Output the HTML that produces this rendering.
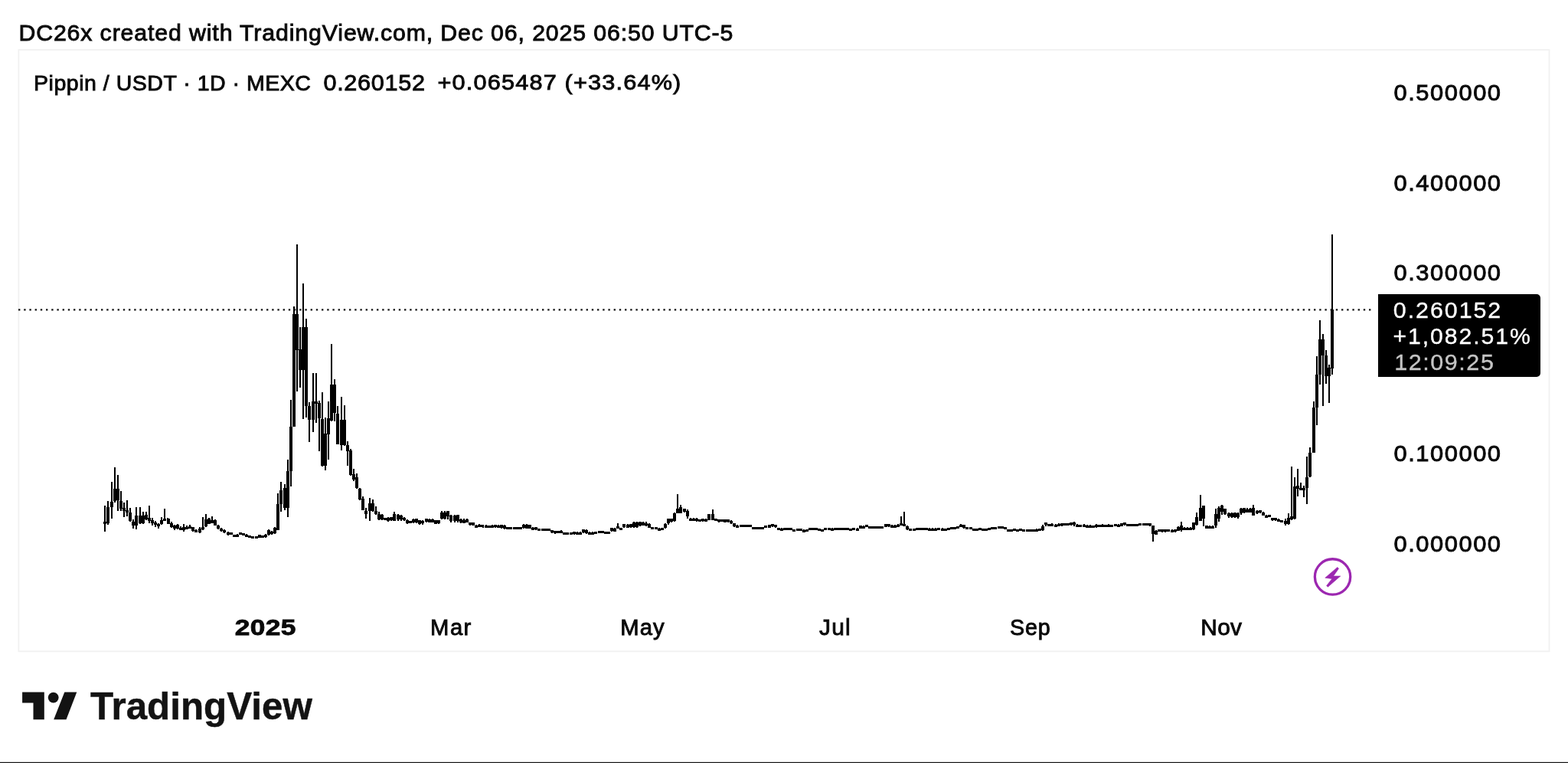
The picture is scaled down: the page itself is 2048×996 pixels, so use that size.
<!DOCTYPE html>
<html><head><meta charset="utf-8"><title>Pippin / USDT chart</title>
<style>
html,body{margin:0;padding:0;background:#fff}
body{width:2048px;height:996px;overflow:hidden;position:relative}
svg{position:absolute;left:0;top:0;display:block}
text{font-family:"Liberation Sans",Arial,sans-serif}
</style></head>
<body>
<svg width="2048" height="996" viewBox="0 0 2048 996">
<rect x="0" y="0" width="2048" height="996" fill="#fff"/>
<rect x="24.4" y="65.1" width="1999.1" height="785.2" fill="#fff" stroke="#f1f1f1" stroke-width="1.8"/>
<line x1="24" y1="404.4" x2="1794" y2="404.4" stroke="#131313" stroke-width="2.4" stroke-dasharray="2.4 4.8"/>
<path d="M136 660h2v34h-2zM140 654h2v31h-2zM145 629h2v48h-2zM149 610h2v46h-2zM153 620h2v47h-2zM157 641h2v26h-2zM161 656h2v19h-2zM165 653h2v21h-2zM169 663h2v18h-2zM173 678h2v12h-2zM177 662h2v29h-2zM182 662h2v22h-2zM186 668h2v16h-2zM190 668h2v11h-2zM194 660h2v23h-2zM198 676h2v10h-2zM202 680h2v8h-2zM206 683h2v7h-2zM210 675h2v10h-2zM214 664h2v16h-2zM218 676h2v8h-2zM223 681h2v8h-2zM227 685h2v7h-2zM231 684h2v7h-2zM235 687h2v5h-2zM239 684h2v10h-2zM243 686h2v5h-2zM247 685h2v5h-2zM251 688h2v6h-2zM255 691h2v3h-2zM260 688h2v8h-2zM264 675h2v17h-2zM268 671h2v17h-2zM272 676h2v8h-2zM276 674h2v9h-2zM280 678h2v8h-2zM284 685h2v6h-2zM288 689h2v5h-2zM292 691h2v5h-2zM297 694h2v5h-2zM301 695h2v3h-2zM305 698h2v1h-2zM309 697h2v4h-2zM313 695h2v3h-2zM317 696h2v2h-2zM321 697h2v4h-2zM325 699h2v3h-2zM329 700h2v2h-2zM334 701h2v1h-2zM338 698h2v4h-2zM342 699h2v3h-2zM346 697h2v5h-2zM350 691h2v8h-2zM354 693h2v5h-2zM358 688h2v9h-2zM362 644h2v48h-2zM366 629h2v39h-2zM371 632h2v34h-2zM375 600h2v75h-2zM379 522h2v113h-2zM383 400h2v157h-2zM387 319h2v192h-2zM391 427h2v79h-2zM395 370h2v177h-2zM399 416h2v129h-2zM403 525h2v52h-2zM408 487h2v77h-2zM412 487h2v65h-2zM416 523h2v66h-2zM420 512h2v97h-2zM424 545h2v69h-2zM428 524h2v76h-2zM432 449h2v101h-2zM436 495h2v55h-2zM440 530h2v50h-2zM445 518h2v70h-2zM449 529h2v53h-2zM453 576h2v32h-2zM457 586h2v35h-2zM461 612h2v16h-2zM465 618h2v20h-2zM469 637h2v16h-2zM473 648h2v18h-2zM477 663h2v14h-2zM482 650h2v30h-2zM486 652h2v16h-2zM490 661h2v11h-2zM494 668h2v11h-2zM498 671h2v8h-2zM502 676h2v3h-2zM506 675h2v6h-2zM510 675h2v5h-2zM514 668h2v12h-2zM519 671h2v9h-2zM523 672h2v8h-2zM527 675h2v5h-2zM531 678h2v6h-2zM535 680h2v2h-2zM539 677h2v6h-2zM543 677h2v6h-2zM547 679h2v6h-2zM551 679h2v6h-2zM556 677h2v5h-2zM560 677h2v5h-2zM564 677h2v5h-2zM568 679h2v5h-2zM572 679h2v5h-2zM576 667h2v11h-2zM580 667h2v11h-2zM584 667h2v11h-2zM588 672h2v10h-2zM593 672h2v10h-2zM597 672h2v10h-2zM601 677h2v6h-2zM605 677h2v6h-2zM609 677h2v5h-2zM613 682h2v4h-2zM617 682h2v4h-2zM621 685h2v4h-2zM625 684h2v4h-2zM630 685h2v4h-2zM634 685h2v3h-2zM638 686h2v3h-2zM642 685h2v4h-2zM646 685h2v4h-2zM650 685h2v4h-2zM654 685h2v5h-2zM658 685h2v6h-2zM662 688h2v2h-2zM666 689h2v2h-2zM671 688h2v2h-2zM675 688h2v2h-2zM679 688h2v2h-2zM683 684h2v6h-2zM687 684h2v6h-2zM691 685h2v5h-2zM695 688h2v3h-2zM699 688h2v4h-2zM703 690h2v3h-2zM708 690h2v3h-2zM712 690h2v3h-2zM716 690h2v3h-2zM720 692h2v4h-2zM724 693h2v4h-2zM728 693h2v3h-2zM732 692h2v4h-2zM736 695h2v3h-2zM740 695h2v3h-2zM745 696h2v2h-2zM749 694h2v4h-2zM753 694h2v3h-2zM757 694h2v4h-2zM761 691h2v5h-2zM765 691h2v6h-2zM769 694h2v3h-2zM773 694h2v3h-2zM777 694h2v3h-2zM782 694h2v2h-2zM786 693h2v3h-2zM790 694h2v3h-2zM794 694h2v3h-2zM798 689h2v5h-2zM802 689h2v5h-2zM806 683h2v7h-2zM810 689h2v2h-2zM814 684h2v5h-2zM819 684h2v5h-2zM823 684h2v5h-2zM827 681h2v8h-2zM831 681h2v8h-2zM835 681h2v6h-2zM839 681h2v5h-2zM843 681h2v6h-2zM847 683h2v6h-2zM851 688h2v3h-2zM856 688h2v3h-2zM860 689h2v3h-2zM864 689h2v3h-2zM868 683h2v7h-2zM872 677h2v8h-2zM876 677h2v5h-2zM880 669h2v12h-2zM884 645h2v25h-2zM888 659h2v11h-2zM893 664h2v5h-2zM897 665h2v12h-2zM901 676h2v4h-2zM905 676h2v4h-2zM909 676h2v5h-2zM913 678h2v3h-2zM917 677h2v4h-2zM921 677h2v4h-2zM925 671h2v8h-2zM930 665h2v14h-2zM934 677h2v2h-2zM938 678h2v4h-2zM942 678h2v3h-2zM946 678h2v4h-2zM950 678h2v4h-2zM954 679h2v5h-2zM958 683h2v5h-2zM962 685h2v3h-2zM967 685h2v3h-2zM971 685h2v3h-2zM975 685h2v3h-2zM979 685h2v3h-2zM983 688h2v3h-2zM987 688h2v3h-2zM991 688h2v2h-2zM995 688h2v2h-2zM999 686h2v3h-2zM1004 685h2v4h-2zM1008 684h2v4h-2zM1012 685h2v4h-2zM1016 689h2v3h-2zM1020 689h2v3h-2zM1024 689h2v3h-2zM1028 689h2v2h-2zM1032 689h2v2h-2zM1036 691h2v2h-2zM1040 690h2v2h-2zM1045 690h2v3h-2zM1049 691h2v4h-2zM1053 691h2v3h-2zM1057 689h2v2h-2zM1061 689h2v3h-2zM1065 689h2v3h-2zM1069 691h2v2h-2zM1073 691h2v2h-2zM1077 689h2v3h-2zM1082 689h2v3h-2zM1086 689h2v3h-2zM1090 689h2v3h-2zM1094 689h2v3h-2zM1098 689h2v3h-2zM1102 689h2v3h-2zM1106 689h2v3h-2zM1110 690h2v2h-2zM1114 689h2v3h-2zM1119 689h2v3h-2zM1123 686h2v4h-2zM1127 686h2v4h-2zM1131 685h2v3h-2zM1135 687h2v3h-2zM1139 687h2v3h-2zM1143 687h2v3h-2zM1147 687h2v2h-2zM1151 687h2v3h-2zM1156 684h2v4h-2zM1160 684h2v4h-2zM1164 685h2v3h-2zM1168 685h2v3h-2zM1172 684h2v3h-2zM1176 674h2v12h-2zM1180 668h2v18h-2zM1184 686h2v6h-2zM1188 690h2v1h-2zM1193 690h2v2h-2zM1197 689h2v3h-2zM1201 689h2v2h-2zM1205 689h2v2h-2zM1209 689h2v3h-2zM1213 689h2v2h-2zM1217 689h2v3h-2zM1221 689h2v3h-2zM1225 689h2v2h-2zM1230 689h2v2h-2zM1234 690h2v2h-2zM1238 689h2v2h-2zM1242 688h2v2h-2zM1246 688h2v2h-2zM1250 688h2v2h-2zM1254 684h2v4h-2zM1258 685h2v5h-2zM1262 688h2v3h-2zM1267 688h2v2h-2zM1271 690h2v2h-2zM1275 690h2v2h-2zM1279 690h2v2h-2zM1283 690h2v2h-2zM1287 690h2v2h-2zM1291 690h2v2h-2zM1295 688h2v2h-2zM1299 688h2v2h-2zM1304 688h2v1h-2zM1308 688h2v2h-2zM1312 688h2v3h-2zM1316 691h2v2h-2zM1320 691h2v3h-2zM1324 690h2v3h-2zM1328 691h2v3h-2zM1332 690h2v3h-2zM1336 691h2v2h-2zM1341 692h2v2h-2zM1345 691h2v2h-2zM1349 691h2v2h-2zM1353 690h2v3h-2zM1357 690h2v3h-2zM1361 685h2v8h-2zM1365 682h2v5h-2zM1369 684h2v3h-2zM1373 683h2v4h-2zM1378 684h2v3h-2zM1382 683h2v4h-2zM1386 683h2v4h-2zM1390 683h2v3h-2zM1394 683h2v3h-2zM1398 682h2v4h-2zM1402 681h2v6h-2zM1406 684h2v3h-2zM1410 685h2v3h-2zM1415 684h2v3h-2zM1419 685h2v3h-2zM1423 685h2v3h-2zM1427 686h2v3h-2zM1431 684h2v5h-2zM1435 685h2v3h-2zM1439 684h2v3h-2zM1443 685h2v3h-2zM1447 684h2v3h-2zM1452 685h2v3h-2zM1456 684h2v3h-2zM1460 684h2v3h-2zM1464 683h2v4h-2zM1468 682h2v4h-2zM1472 684h2v2h-2zM1476 684h2v2h-2zM1480 684h2v2h-2zM1484 684h2v2h-2zM1488 683h2v3h-2zM1493 683h2v3h-2zM1497 683h2v3h-2zM1501 683h2v4h-2zM1505 686h2v21h-2zM1509 692h2v6h-2zM1513 691h2v3h-2zM1517 691h2v4h-2zM1521 691h2v4h-2zM1525 691h2v3h-2zM1530 691h2v4h-2zM1534 691h2v4h-2zM1538 687h2v6h-2zM1542 681h2v13h-2zM1546 688h2v4h-2zM1550 688h2v4h-2zM1554 688h2v4h-2zM1558 682h2v10h-2zM1562 669h2v17h-2zM1567 646h2v34h-2zM1571 660h2v27h-2zM1575 686h2v4h-2zM1579 686h2v4h-2zM1583 686h2v4h-2zM1587 664h2v25h-2zM1591 661h2v20h-2zM1595 659h2v13h-2zM1599 664h2v8h-2zM1604 669h2v7h-2zM1608 669h2v7h-2zM1612 669h2v7h-2zM1616 669h2v8h-2zM1620 663h2v9h-2zM1624 663h2v7h-2zM1628 663h2v6h-2zM1632 663h2v6h-2zM1636 659h2v14h-2zM1641 666h2v5h-2zM1645 666h2v4h-2zM1649 668h2v5h-2zM1653 672h2v4h-2zM1657 672h2v3h-2zM1661 676h2v4h-2zM1665 676h2v4h-2zM1669 677h2v4h-2zM1673 679h2v3h-2zM1678 677h2v9h-2zM1682 670h2v15h-2zM1686 609h2v70h-2zM1690 623h2v55h-2zM1694 612h2v36h-2zM1698 630h2v10h-2zM1702 634h2v15h-2zM1706 596h2v62h-2zM1710 584h2v39h-2zM1715 524h2v67h-2zM1719 465h2v90h-2zM1723 418h2v84h-2zM1727 436h2v94h-2zM1731 457h2v44h-2zM1735 476h2v50h-2zM1739 306h2v183h-2zM135 681h4v3h-4zM139 662h4v21h-4zM144 655h4v7h-4zM148 638h4v16h-4zM152 638h4v15h-4zM156 654h4v10h-4zM160 663h4v4h-4zM164 666h4v3h-4zM168 669h4v11h-4zM172 681h4v5h-4zM176 673h4v13h-4zM181 673h4v10h-4zM185 673h4v10h-4zM189 672h4v6h-4zM193 676h4v4h-4zM197 679h4v4h-4zM201 682h4v3h-4zM205 684h4v3h-4zM209 679h4v5h-4zM213 677h4v3h-4zM218 677h4v7h-4zM222 683h4v5h-4zM226 686h4v4h-4zM230 685h4v5h-4zM234 689h4v3h-4zM238 688h4v4h-4zM242 688h4v3h-4zM246 687h4v3h-4zM250 688h4v5h-4zM254 692h4v3h-4zM259 690h4v5h-4zM263 688h4v3h-4zM267 678h4v9h-4zM271 677h4v7h-4zM275 679h4v4h-4zM279 679h4v7h-4zM283 686h4v4h-4zM287 690h4v3h-4zM291 692h4v3h-4zM296 695h4v3h-4zM300 695h4v3h-4zM304 698h4v3h-4zM308 698h4v3h-4zM312 695h4v3h-4zM316 696h4v3h-4zM320 698h4v3h-4zM324 699h4v3h-4zM328 700h4v3h-4zM333 700h4v3h-4zM337 698h4v4h-4zM341 699h4v3h-4zM345 698h4v3h-4zM349 692h4v6h-4zM353 694h4v3h-4zM357 689h4v7h-4zM361 658h4v34h-4zM365 640h4v18h-4zM370 637h4v26h-4zM374 615h4v48h-4zM378 557h4v58h-4zM382 410h4v147h-4zM386 410h4v47h-4zM390 456h4v27h-4zM394 427h4v56h-4zM398 427h4v103h-4zM402 530h4v18h-4zM407 524h4v24h-4zM411 524h4v3h-4zM415 526h4v20h-4zM419 547h4v61h-4zM423 566h4v42h-4zM427 546h4v21h-4zM431 502h4v47h-4zM435 502h4v37h-4zM439 540h4v40h-4zM444 548h4v33h-4zM448 548h4v33h-4zM452 581h4v8h-4zM456 588h4v32h-4zM460 619h4v7h-4zM464 623h4v14h-4zM468 638h4v14h-4zM472 651h4v15h-4zM476 667h4v4h-4zM481 657h4v10h-4zM485 657h4v10h-4zM489 667h4v4h-4zM493 671h4v7h-4zM497 672h4v6h-4zM501 676h4v3h-4zM505 676h4v4h-4zM509 675h4v4h-4zM513 671h4v9h-4zM518 672h4v6h-4zM522 673h4v5h-4zM526 676h4v3h-4zM530 679h4v4h-4zM534 680h4v3h-4zM538 678h4v4h-4zM542 677h4v5h-4zM546 679h4v5h-4zM550 680h4v3h-4zM555 677h4v4h-4zM559 678h4v4h-4zM563 678h4v4h-4zM567 679h4v5h-4zM571 679h4v4h-4zM575 669h4v8h-4zM579 669h4v8h-4zM583 667h4v7h-4zM587 673h4v7h-4zM592 673h4v7h-4zM596 672h4v8h-4zM600 678h4v4h-4zM604 679h4v4h-4zM608 678h4v4h-4zM612 682h4v3h-4zM616 682h4v4h-4zM620 686h4v3h-4zM624 685h4v3h-4zM628 685h4v3h-4zM633 686h4v3h-4zM637 686h4v3h-4zM641 686h4v3h-4zM645 685h4v3h-4zM649 686h4v3h-4zM653 685h4v4h-4zM657 686h4v4h-4zM661 688h4v3h-4zM665 688h4v3h-4zM670 688h4v3h-4zM674 688h4v3h-4zM678 688h4v3h-4zM682 685h4v4h-4zM686 685h4v5h-4zM690 685h4v5h-4zM694 689h4v3h-4zM698 688h4v3h-4zM702 690h4v3h-4zM707 690h4v3h-4zM711 690h4v3h-4zM715 690h4v3h-4zM719 692h4v3h-4zM723 693h4v3h-4zM727 693h4v3h-4zM731 693h4v3h-4zM735 695h4v3h-4zM739 695h4v3h-4zM744 695h4v3h-4zM748 694h4v3h-4zM752 695h4v3h-4zM756 695h4v3h-4zM760 691h4v4h-4zM764 692h4v4h-4zM768 695h4v3h-4zM772 695h4v3h-4zM776 694h4v3h-4zM781 693h4v3h-4zM785 693h4v3h-4zM789 694h4v3h-4zM793 694h4v3h-4zM797 689h4v4h-4zM801 690h4v4h-4zM805 687h4v3h-4zM809 689h4v3h-4zM813 684h4v4h-4zM818 685h4v4h-4zM822 684h4v4h-4zM826 682h4v6h-4zM830 682h4v6h-4zM834 681h4v5h-4zM838 682h4v4h-4zM842 683h4v3h-4zM846 684h4v5h-4zM850 688h4v3h-4zM855 688h4v3h-4zM859 690h4v3h-4zM863 689h4v3h-4zM867 684h4v5h-4zM871 677h4v6h-4zM875 677h4v4h-4zM879 670h4v10h-4zM883 664h4v6h-4zM887 662h4v8h-4zM892 664h4v4h-4zM896 667h4v7h-4zM900 677h4v3h-4zM904 677h4v3h-4zM908 677h4v3h-4zM912 678h4v3h-4zM916 677h4v3h-4zM920 678h4v3h-4zM924 671h4v8h-4zM929 671h4v8h-4zM933 677h4v3h-4zM937 678h4v3h-4zM941 678h4v3h-4zM945 678h4v4h-4zM949 678h4v3h-4zM953 680h4v3h-4zM957 683h4v4h-4zM961 686h4v3h-4zM966 685h4v3h-4zM970 685h4v3h-4zM974 685h4v3h-4zM978 685h4v3h-4zM982 688h4v3h-4zM986 688h4v3h-4zM990 688h4v3h-4zM994 688h4v3h-4zM998 686h4v3h-4zM1003 685h4v4h-4zM1007 684h4v3h-4zM1011 685h4v3h-4zM1015 689h4v3h-4zM1019 690h4v3h-4zM1023 689h4v3h-4zM1027 689h4v3h-4zM1031 689h4v3h-4zM1035 691h4v3h-4zM1040 690h4v3h-4zM1044 690h4v3h-4zM1048 692h4v3h-4zM1052 691h4v3h-4zM1056 689h4v3h-4zM1060 689h4v3h-4zM1064 689h4v3h-4zM1068 690h4v3h-4zM1072 691h4v3h-4zM1076 689h4v3h-4zM1081 689h4v3h-4zM1085 690h4v3h-4zM1089 689h4v3h-4zM1093 689h4v3h-4zM1097 689h4v3h-4zM1101 689h4v3h-4zM1105 689h4v3h-4zM1109 690h4v3h-4zM1113 689h4v3h-4zM1118 690h4v3h-4zM1122 686h4v4h-4zM1126 687h4v3h-4zM1130 685h4v3h-4zM1134 687h4v3h-4zM1138 687h4v3h-4zM1142 687h4v3h-4zM1146 687h4v3h-4zM1150 687h4v3h-4zM1155 684h4v4h-4zM1159 684h4v3h-4zM1163 686h4v3h-4zM1167 686h4v3h-4zM1171 685h4v3h-4zM1175 683h4v3h-4zM1179 684h4v3h-4zM1183 687h4v4h-4zM1187 690h4v3h-4zM1192 690h4v3h-4zM1196 689h4v3h-4zM1200 689h4v3h-4zM1204 689h4v3h-4zM1208 689h4v3h-4zM1212 690h4v3h-4zM1216 690h4v3h-4zM1220 690h4v3h-4zM1224 689h4v3h-4zM1229 690h4v3h-4zM1233 690h4v3h-4zM1237 689h4v3h-4zM1241 688h4v3h-4zM1245 688h4v3h-4zM1249 687h4v3h-4zM1253 685h4v3h-4zM1257 685h4v4h-4zM1261 688h4v3h-4zM1266 688h4v3h-4zM1270 690h4v3h-4zM1274 690h4v3h-4zM1278 689h4v3h-4zM1282 690h4v3h-4zM1286 690h4v3h-4zM1290 689h4v3h-4zM1294 688h4v3h-4zM1298 688h4v3h-4zM1303 687h4v3h-4zM1307 687h4v3h-4zM1311 688h4v3h-4zM1315 691h4v3h-4zM1319 691h4v3h-4zM1323 690h4v3h-4zM1327 691h4v3h-4zM1331 690h4v3h-4zM1335 691h4v3h-4zM1340 691h4v3h-4zM1344 691h4v3h-4zM1348 691h4v3h-4zM1352 691h4v3h-4zM1356 690h4v3h-4zM1360 687h4v5h-4zM1364 682h4v3h-4zM1368 684h4v3h-4zM1372 684h4v3h-4zM1377 685h4v3h-4zM1381 684h4v3h-4zM1385 683h4v3h-4zM1389 683h4v3h-4zM1393 683h4v3h-4zM1397 682h4v3h-4zM1401 682h4v3h-4zM1405 685h4v3h-4zM1409 685h4v3h-4zM1414 685h4v3h-4zM1418 686h4v3h-4zM1422 686h4v3h-4zM1426 686h4v3h-4zM1430 685h4v3h-4zM1434 685h4v3h-4zM1438 685h4v3h-4zM1442 685h4v3h-4zM1446 685h4v3h-4zM1450 685h4v3h-4zM1455 684h4v3h-4zM1459 685h4v3h-4zM1463 683h4v4h-4zM1467 682h4v3h-4zM1471 684h4v3h-4zM1475 684h4v3h-4zM1479 684h4v3h-4zM1483 684h4v3h-4zM1487 683h4v3h-4zM1492 683h4v3h-4zM1496 683h4v3h-4zM1500 683h4v3h-4zM1504 686h4v11h-4zM1508 693h4v5h-4zM1512 691h4v3h-4zM1516 691h4v3h-4zM1520 691h4v3h-4zM1524 691h4v3h-4zM1529 692h4v3h-4zM1533 691h4v3h-4zM1537 688h4v5h-4zM1541 686h4v6h-4zM1545 689h4v3h-4zM1549 689h4v3h-4zM1553 689h4v3h-4zM1557 682h4v9h-4zM1561 675h4v10h-4zM1566 663h4v17h-4zM1570 660h4v17h-4zM1574 686h4v4h-4zM1578 687h4v3h-4zM1582 687h4v3h-4zM1586 671h4v15h-4zM1590 663h4v14h-4zM1594 660h4v8h-4zM1598 664h4v7h-4zM1603 670h4v4h-4zM1607 670h4v5h-4zM1611 669h4v6h-4zM1615 670h4v5h-4zM1619 664h4v6h-4zM1623 663h4v6h-4zM1627 665h4v4h-4zM1631 664h4v5h-4zM1635 663h4v10h-4zM1640 667h4v3h-4zM1644 666h4v3h-4zM1648 669h4v4h-4zM1652 673h4v3h-4zM1656 672h4v3h-4zM1660 676h4v3h-4zM1664 676h4v3h-4zM1668 678h4v3h-4zM1672 679h4v3h-4zM1677 680h4v4h-4zM1681 676h4v8h-4zM1685 674h4v4h-4zM1689 635h4v42h-4zM1693 634h4v4h-4zM1697 637h4v3h-4zM1701 637h4v3h-4zM1705 623h4v14h-4zM1709 591h4v31h-4zM1714 532h4v59h-4zM1718 489h4v43h-4zM1722 443h4v46h-4zM1726 443h4v21h-4zM1730 464h4v27h-4zM1734 480h4v11h-4zM1738 404h4v77h-4z" fill="#000"/>
<path d="M1800 384H2007a5 5 0 0 1 5 5V487a5 5 0 0 1 -5 5H1800Z" fill="#000"/>
<text transform="translate(1819.859 415.114) scale(1.02 1)" font-size="29.812" fill="#fff" letter-spacing="1.903" stroke="#fff" stroke-width="0.35">0.260152</text>
<text transform="translate(1819.565 449.1) scale(1.02 1)" font-size="29.6" fill="#fff" letter-spacing="1.888" stroke="#fff" stroke-width="0.35">+1,082.51%</text>
<text transform="translate(1821.185 482.913) scale(1.02 1)" font-size="29.933" fill="#c4c4c4" letter-spacing="1.526" stroke="#c4c4c4" stroke-width="0.35">12:09:25</text>
<circle cx="1740.55" cy="752.95" r="23.2" fill="none" stroke="#9c27b0" stroke-width="3.3"/>
<path d="M1746.9 740.4L1748.5 742.2L1741.6 752H1750.8L1734.4 766.2L1732.6 764.6L1739.8 755.5L1730.8 754.3Z" fill="#9c27b0" stroke="#9c27b0" stroke-width="0.6" stroke-linejoin="round"/>
<text transform="translate(24.429 52.775) scale(1.05 1)" font-size="28.819" fill="#0a0a0a" letter-spacing="0.849" stroke="#0a0a0a" stroke-width="0.9">DC26x created with TradingView.com, Dec 06, 2025 06:50 UTC-5</text>
<text transform="translate(44.068 117.575) scale(1 1)" font-size="28.522" fill="#0a0a0a" letter-spacing="0.506" stroke="#0a0a0a" stroke-width="0.9">Pippin / USDT · 1D · MEXC</text>
<text transform="translate(422.425 117.78) scale(1.04 1)" font-size="29.451" fill="#0a0a0a" letter-spacing="0.678" stroke="#0a0a0a" stroke-width="0.9">0.260152</text>
<text transform="translate(571.517 116.812) scale(1.08 1)" font-size="28.393" fill="#0a0a0a" letter-spacing="1.088" stroke="#0a0a0a" stroke-width="0.9">+0.065487 (+33.64%)</text>
<text transform="translate(1820.515 131.089) scale(1.08 1)" font-size="28.585" fill="#0a0a0a" letter-spacing="1.42" stroke="#0a0a0a" stroke-width="0.9">0.500000</text>
<text transform="translate(1820.515 248.789) scale(1.08 1)" font-size="28.585" fill="#0a0a0a" letter-spacing="1.42" stroke="#0a0a0a" stroke-width="0.9">0.400000</text>
<text transform="translate(1820.515 366.489) scale(1.08 1)" font-size="28.585" fill="#0a0a0a" letter-spacing="1.42" stroke="#0a0a0a" stroke-width="0.9">0.300000</text>
<text transform="translate(1820.515 601.889) scale(1.08 1)" font-size="28.585" fill="#0a0a0a" letter-spacing="1.42" stroke="#0a0a0a" stroke-width="0.9">0.100000</text>
<text transform="translate(1820.515 719.589) scale(1.08 1)" font-size="28.585" fill="#0a0a0a" letter-spacing="1.42" stroke="#0a0a0a" stroke-width="0.9">0.000000</text>
<text transform="translate(306.664 828.8) scale(1.2 1)" font-size="29.434" fill="#0a0a0a" letter-spacing="0.314" font-weight="bold" stroke="#0a0a0a" stroke-width="0.8">2025</text>
<text transform="translate(562.111 828.575) scale(1.02 1)" font-size="28.67" fill="#0a0a0a" letter-spacing="1.411" stroke="#0a0a0a" stroke-width="0.9">Mar</text>
<text transform="translate(810.361 828.575) scale(1.02 1)" font-size="28.67" fill="#0a0a0a" letter-spacing="0.963" stroke="#0a0a0a" stroke-width="0.9">May</text>
<text transform="translate(1070.003 828.575) scale(1.04 1)" font-size="28.67" fill="#0a0a0a" letter-spacing="1.187" stroke="#0a0a0a" stroke-width="0.9">Jul</text>
<text transform="translate(1318.96 828.575) scale(1 1)" font-size="28.67" fill="#0a0a0a" letter-spacing="0.852" stroke="#0a0a0a" stroke-width="0.9">Sep</text>
<text transform="translate(1568.265 828.575) scale(1.04 1)" font-size="28.67" fill="#0a0a0a" letter-spacing="0.365" stroke="#0a0a0a" stroke-width="0.9">Nov</text>
<text transform="translate(118.057 939.075) scale(0.97 1)" font-size="50.87" font-weight="bold" fill="#131313" stroke="#131313" stroke-width="0.5">TradingView</text>
<g fill="#131313">
<path d="M29.1 903.6H57.8V939.2H43.5V917.6H29.1Z"/>
<circle cx="69.7" cy="910.6" r="6.9"/>
<path d="M84.3 903.6H100.3L86.5 939.2H70.2Z"/>
</g>
<rect x="0" y="994.8" width="2048" height="1.2" fill="#151515"/>
</svg>
</body></html>
